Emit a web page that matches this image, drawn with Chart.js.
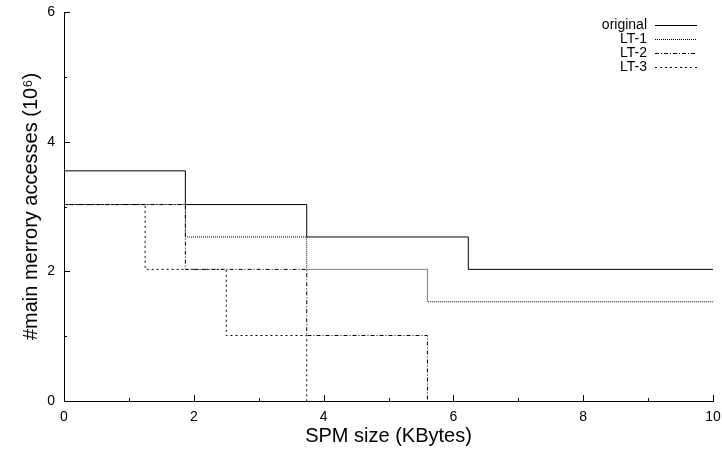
<!DOCTYPE html>
<html>
<head>
<meta charset="utf-8">
<script src="https://cdn.jsdelivr.net/npm/chart.js@4"></script>
<style>
  html, body { margin: 0; padding: 0; background: #fff; }
  #wrap { width: 722px; height: 450px; }
</style>
</head>
<body>
<div id="wrap"><canvas id="c" width="722" height="450"></canvas></div>
<script>
// ---- data ----
const seriesNames = ['original', 'LT-1', 'LT-2', 'LT-3'];
const originalX = [0, 0, 1.87, 3.74, 6.23, 10];
const originalY = [6, 3.55, 3.03, 2.53, 2.03, 2.03];
const lt1X = [0, 0, 1.87, 3.74, 5.6, 10];
const lt1Y = [6, 3.03, 2.53, 2.03, 1.53, 1.53];
const lt2X = [0, 0, 1.87, 3.74, 5.6];
const lt2Y = [6, 3.03, 2.03, 1.01, 0];
const lt3X = [0, 0, 1.25, 2.5, 3.74];
const lt3Y = [6, 3.03, 2.03, 1.01, 0];
const xTicks = [0, 2, 4, 6, 8, 10];
const yTicks = [0, 2, 4, 6];
const xMinorTicks = [1, 3, 5, 7, 9];
const yMinorTicks = [1, 3, 5];
const xTitle = 'SPM size (KBytes)';
const yTitle = '#main merrory accesses (10\u2076)';

const dashes = [[], [1, 1], [4, 2, 1, 2], [2, 3]];
const pts = (xs, ys) => xs.map((x, i) => ({ x: x, y: ys[i] }));
const seriesData = [pts(originalX, originalY), pts(lt1X, lt1Y), pts(lt2X, lt2Y), pts(lt3X, lt3Y)];

Chart.defaults.font.family = '"Liberation Sans", Arial, Helvetica, sans-serif';
Chart.defaults.color = '#000';

const ticksAndLegend = {
  id: 'ticksAndLegend',
  afterDatasetsDraw(chart) {
    const ctx = chart.ctx;
    const xs = chart.scales.x, ys = chart.scales.y;
    const a = chart.chartArea;
    ctx.save();
    ctx.strokeStyle = '#000';
    ctx.lineWidth = 1;
    ctx.setLineDash([]);
    ctx.beginPath();
    xTicks.forEach(v => { const px = Math.round(xs.getPixelForValue(v)) + 0.5; ctx.moveTo(px, a.bottom); ctx.lineTo(px, a.bottom - 6); });
    xMinorTicks.forEach(v => { const px = Math.round(xs.getPixelForValue(v)) + 0.5; ctx.moveTo(px, a.bottom); ctx.lineTo(px, a.bottom - 3); });
    yTicks.forEach(v => { const py = Math.round(ys.getPixelForValue(v)) + 0.5; ctx.moveTo(a.left, py); ctx.lineTo(a.left + 6, py); });
    yMinorTicks.forEach(v => { const py = Math.round(ys.getPixelForValue(v)) + 0.5; ctx.moveTo(a.left, py); ctx.lineTo(a.left + 3, py); });
    ctx.stroke();

    // legend: text right-aligned, then line sample
    ctx.font = '14px "Liberation Sans", Arial, sans-serif';
    ctx.fillStyle = '#000';
    ctx.textAlign = 'right';
    ctx.textBaseline = 'middle';
    const textRight = 647, lineL = 655, lineR = 697, y0 = 25, dy = 14;
    seriesNames.forEach((name, i) => {
      const y = y0 + i * dy;
      ctx.fillText(name, textRight, y);
      ctx.setLineDash(dashes[i]);
      ctx.beginPath();
      ctx.moveTo(lineL, Math.round(y) + 0.5);
      ctx.lineTo(lineR, Math.round(y) + 0.5);
      ctx.stroke();
    });
    ctx.restore();
  }
};

function noPad(s) {
  s.paddingTop = 0; s.paddingBottom = 0; s.paddingLeft = 0; s.paddingRight = 0;
}

new Chart(document.getElementById('c'), {
  type: 'line',
  data: {
    datasets: seriesNames.map((name, i) => ({
      label: name,
      data: seriesData[i],
      borderColor: '#000',
      borderWidth: 1,
      borderDash: dashes[i],
      stepped: 'before',
      pointRadius: 0,
      fill: false,
      tension: 0
    }))
  },
  options: {
    responsive: false,
    animation: false,
    layout: { padding: { left: 0, right: 9, top: 12, bottom: 0 } },
    plugins: { legend: { display: false }, tooltip: { enabled: false } },
    scales: {
      x: {
        type: 'linear', min: 0, max: 10,
        afterBuildTicks: s => { s.ticks = xTicks.map(v => ({ value: v })); },
        afterFit: s => { s.height = 49; noPad(s); },
        grid: { display: false, drawTicks: false },
        border: { display: true, color: '#000', width: 1 },
        ticks: { font: { size: 14 }, padding: 8, maxRotation: 0, autoSkip: false, color: '#000' },
        title: { display: true, text: xTitle, font: { size: 20 }, padding: { top: 0, bottom: 2 }, color: '#000' }
      },
      y: {
        type: 'linear', min: 0, max: 6,
        afterBuildTicks: s => { s.ticks = yTicks.map(v => ({ value: v })); },
        afterFit: s => { s.width = 64; noPad(s); },
        grid: { display: false, drawTicks: false },
        border: { display: true, color: '#000', width: 1 },
        ticks: { font: { size: 14 }, padding: 9, color: '#000' },
        title: { display: true, text: yTitle, font: { size: 20 }, padding: { top: 19, bottom: 0 }, color: '#000' }
      }
    }
  },
  plugins: [ticksAndLegend]
});
</script>
</body>
</html>
